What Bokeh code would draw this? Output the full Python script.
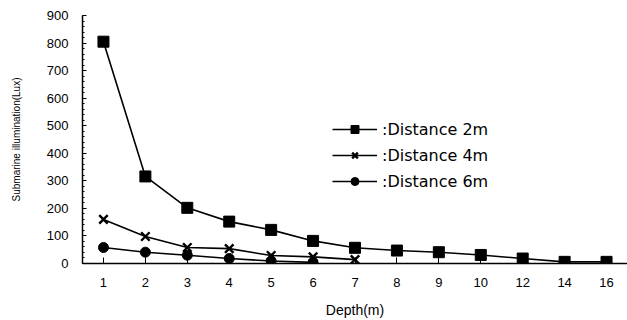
from bokeh.plotting import figure
from bokeh.models import FactorRange, Range1d, SingleIntervalTicker, Legend, LegendItem
from bokeh.embed import file_html
from bokeh.resources import INLINE

depths = ["1", "2", "3", "4", "5", "6", "7", "8", "9", "10", "12", "14", "16"]
dist2m = [805, 316, 202, 152, 122, 82, 57, 47, 41, 31, 18, 6, 6]
depths_4m = ["1", "2", "3", "4", "5", "6", "7"]
dist4m = [160, 98, 58, 54, 29, 24, 14]
depths_6m = ["1", "2", "3", "4", "5", "6"]
dist6m = [58, 41, 30, 18, 9, 4]
y_ticks_interval = 100

FONT = "Liberation Sans"

p = figure(width=627, height=320, x_range=FactorRange(*depths), y_range=Range1d(0, 900),
           output_backend="svg", toolbar_location=None,
           min_border_left=82, min_border_right=0, min_border_top=15, min_border_bottom=56)
p.outline_line_color = None
p.xgrid.grid_line_color = None
p.ygrid.grid_line_color = None
p.background_fill_color = "white"

l1 = p.line(depths, dist2m, line_color="black", line_width=1.6)
m1 = p.scatter(depths, dist2m, marker="square", size=11, fill_color="black", line_color="black")
l2 = p.line(depths_4m, dist4m, line_color="black", line_width=1.6)
m2 = p.scatter(depths_4m, dist4m, marker="x", size=12, line_color="black", line_width=2.4)
l3 = p.line(depths_6m, dist6m, line_color="black", line_width=1.6)
m3 = p.scatter(depths_6m, dist6m, marker="circle", size=10, fill_color="black", line_color="black")

legend = Legend(items=[LegendItem(label=":Distance 2m", renderers=[l1, m1]),
                       LegendItem(label=":Distance 4m", renderers=[l2, m2]),
                       LegendItem(label=":Distance 6m", renderers=[l3, m3])],
                location=(250, 72), glyph_width=45, glyph_height=20, label_height=20,
                spacing=6, padding=0, margin=0, label_standoff=5,
                border_line_color=None, background_fill_alpha=0,
                label_text_font="DejaVu Sans", label_text_font_size="16px", label_text_color="black")
p.add_layout(legend, "center")

p.yaxis.ticker = SingleIntervalTicker(interval=y_ticks_interval, num_minor_ticks=5)
p.yaxis.major_tick_in = 4
p.yaxis.major_tick_out = 0
p.yaxis.minor_tick_in = 2
p.yaxis.minor_tick_out = 0
p.yaxis.major_label_standoff = 14
p.yaxis.axis_label = "Submarine illumination(Lux)"
p.yaxis.axis_label_text_font_size = "10px"
p.yaxis.axis_label_text_font_style = "normal"
p.yaxis.axis_label_standoff = 22

p.xaxis.major_tick_in = 6
p.xaxis.major_tick_out = 0
p.xaxis.major_label_standoff = 14
p.xaxis.axis_label = "Depth(m)"
p.xaxis.axis_label_text_font_size = "14px"
p.xaxis.axis_label_text_font_style = "normal"
p.xaxis.axis_label_standoff = 12

for ax in (p.xaxis, p.yaxis):
    ax.axis_line_color = "black"
    ax.axis_line_width = 1.5
    ax.major_tick_line_color = "black"
    ax.minor_tick_line_color = "black"
    ax.major_label_text_font = FONT
    ax.major_label_text_font_size = "13px"
    ax.major_label_text_color = "black"
    ax.axis_label_text_font = FONT
    ax.axis_label_text_color = "black"

open("out.html", "w").write(file_html(p, INLINE))
